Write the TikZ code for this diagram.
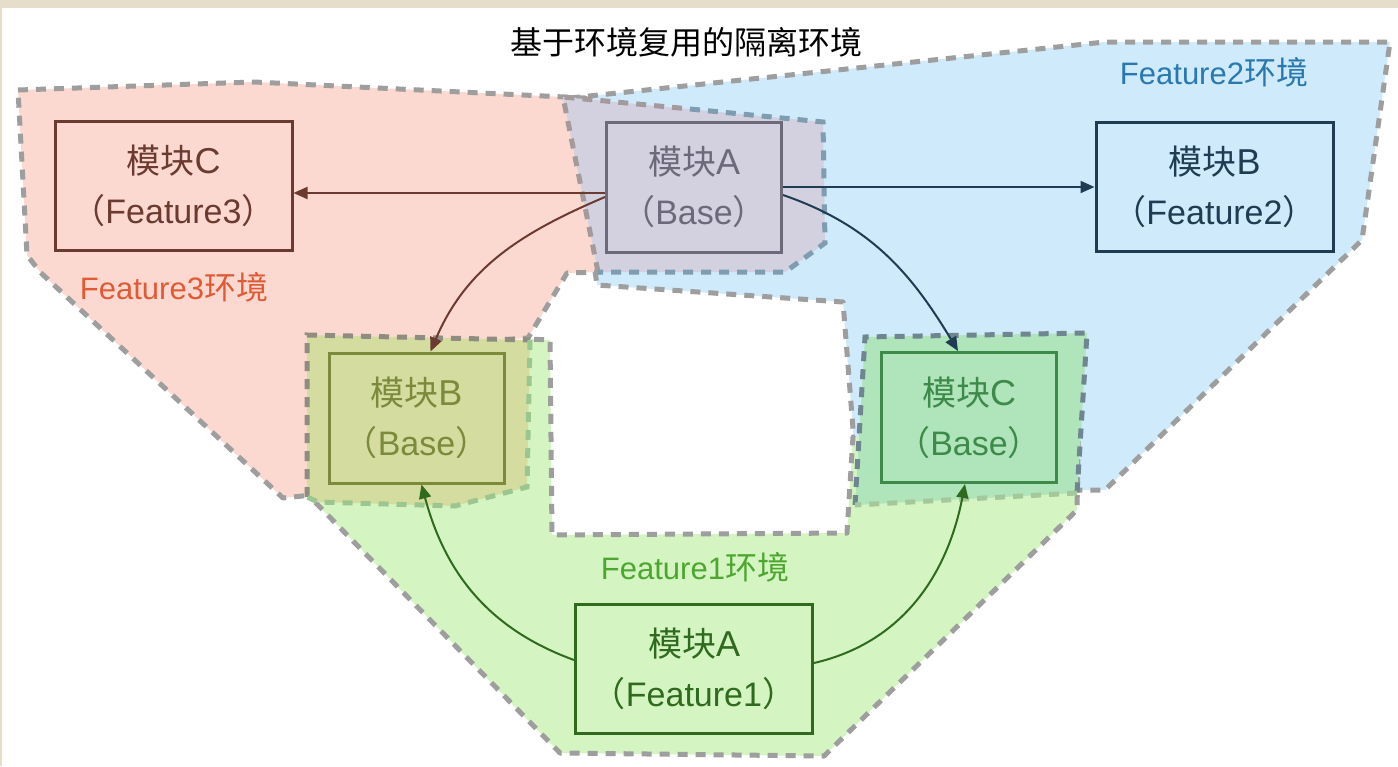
\documentclass[tikz,border=0pt]{standalone}
\usepackage{fontspec}
\setmainfont{Liberation Sans}
\newfontfamily\cjk{Noto Sans CJK SC}
\usetikzlibrary{arrows.meta,calc}
\newcommand{\zh}[1]{{\cjk\fontsize{34}{50}\selectfont #1}}
\newcommand{\zl}[1]{{\cjk\fontsize{32}{36}\selectfont #1}}
\newcommand{\bigltr}[1]{{\fontsize{36}{50}\selectfont #1}}
\definecolor{beige}{RGB}{230,221,202}
\definecolor{dashgray}{RGB}{158,158,158}
\definecolor{pinkfill}{RGB}{252,217,208}
\definecolor{bluefill}{RGB}{206,234,251}
\definecolor{greenfill}{RGB}{212,245,193}
\definecolor{purplefill}{RGB}{211,209,224}
\definecolor{olivefill}{RGB}{213,220,160}
\definecolor{cbasefill}{RGB}{176,229,187}
\definecolor{brownc}{RGB}{107,59,48}
\definecolor{grayc}{RGB}{108,106,122}
\definecolor{navyc}{RGB}{31,60,82}
\definecolor{olivec}{RGB}{124,138,60}
\definecolor{greenc}{RGB}{62,138,74}
\definecolor{dgreenc}{RGB}{47,106,30}
\definecolor{lab3}{RGB}{224,90,53}
\definecolor{lab2}{RGB}{42,120,176}
\definecolor{lab1}{RGB}{76,166,47}
\definecolor{edgepurpleL}{RGB}{164,154,156}
\definecolor{edgepurpleR}{RGB}{127,157,176}
\definecolor{edgeoliveL}{RGB}{143,140,128}
\definecolor{edgeoliveR}{RGB}{156,198,144}
\definecolor{edgecbaseT}{RGB}{111,133,143}
\definecolor{edgecbaseB}{RGB}{164,200,156}
\tikzset{
  envline/.style={draw=dashgray, line width=5pt, dash pattern=on 10pt off 8pt, line join=round},
  baseline/.style={line width=5pt, dash pattern=on 10pt off 8pt, line cap=butt},
  modtext/.style={font=\fontsize{34}{50}\selectfont, align=center},
  widebox/.style={modtext, draw, line width=3pt, minimum width=237pt, minimum height=129pt, inner sep=0pt},
  narrowbox/.style={modtext, draw, line width=3pt, minimum width=175pt, minimum height=130pt, inner sep=0pt},
  arr/.style={line width=2pt, -{Triangle[length=14pt,width=12pt]}},
  envlabel/.style={font=\fontsize{31}{36}\selectfont}
}
\begin{document}
\begin{tikzpicture}[x=1pt,y=1pt]
\useasboundingbox (0,0) rectangle (1398,-766);
\fill[beige] (0,0) rectangle (1398,-766);
\fill[white] (2,-8) rectangle (1398,-766);

% Feature2 environment (blue)
\path[fill=bluefill, envline] (570,-98) -- (1105,-42) -- (1390,-42) -- (1362,-240) -- (1105,-490) -- (858,-492) -- (843,-302) -- (597,-285) -- cycle;
% Feature3 environment (pink)
\path[fill=pinkfill, envline] (18,-90) -- (254,-82) -- (585,-98) -- (600,-272) -- (567,-273) -- (528,-338) -- (420,-345) -- (312,-495) -- (283,-498) -- (40,-272) -- (27,-255) -- cycle;
% Feature1 environment (green)
\path[fill=greenfill, envline] (320,-345) -- (520,-345) -- (528,-339) -- (550,-340) -- (552,-535) -- (847,-533) -- (853,-437) -- (860,-437) -- (870,-345) -- (1080,-345) -- (1077,-510) -- (824,-756) -- (560,-753) -- (313,-500) -- (318,-480) -- cycle;

% base regions
\fill[purplefill] (563,-97) -- (823,-122) -- (825,-243) -- (785,-272) -- (598,-272) -- cycle;
\draw[baseline, draw=edgepurpleL] (598,-272) -- (563,-97) -- (690,-109);
\draw[baseline, draw=edgepurpleR] (690,-109) -- (823,-122) -- (825,-243) -- (785,-272) -- (598,-272);

\fill[olivefill] (307,-335) -- (530,-340) -- (527,-487) -- (455,-506) -- (318,-502) -- (307,-497) -- cycle;
\draw[baseline, draw=edgeoliveL] (307,-497) -- (307,-335) -- (530,-340);
\draw[baseline, draw=edgeoliveR] (530,-340) -- (527,-487) -- (455,-506) -- (318,-502) -- (307,-497);

\fill[cbasefill] (865,-337) -- (1087,-333) -- (1077,-493) -- (855,-505) -- cycle;
\draw[baseline, draw=edgecbaseT] (855,-505) -- (865,-337) -- (1087,-333) -- (1077,-493);
\draw[baseline, draw=edgecbaseB] (1077,-493) -- (855,-505);

% module boxes
\node[widebox, draw=brownc, text=brownc] (cf3) at (173.5,-186) {\zh{模块}\bigltr{C}\\\zh{（}Feature3\zh{）}};
\node[narrowbox, draw=grayc, text=grayc] (abase) at (694,-187) {\zh{模块}\bigltr{A}\\\zh{（}Base\zh{）}};
\node[widebox, draw=navyc, text=navyc] (bf2) at (1214.5,-187) {\zh{模块}\bigltr{B}\\\zh{（}Feature2\zh{）}};
\node[narrowbox, draw=olivec, text=olivec] (bbase) at (416.5,-418) {\zh{模块}\bigltr{B}\\\zh{（}Base\zh{）}};
\node[narrowbox, draw=greenc, text=greenc] (cbase) at (969,-417.5) {\zh{模块}\bigltr{C}\\\zh{（}Base\zh{）}};
\node[widebox, draw=dgreenc, text=dgreenc] (af1) at (694,-669) {\zh{模块}\bigltr{A}\\\zh{（}Feature1\zh{）}};

% connectors
\draw[arr, brownc] ([yshift=-6pt]abase.west) -- ([yshift=-6pt]abase.west -| cf3.east);
\draw[arr, navyc] (abase.east) -- (bf2.west);
\draw[arr, brownc] ([yshift=-10pt]abase.west) to[out=203,in=67] ([xshift=14pt]bbase.north);
\draw[arr, navyc] ([yshift=-8pt]abase.east) to[out=-19,in=121] ([xshift=-11pt]cbase.north);
\draw[arr, dgreenc] ([yshift=9pt]af1.west) to[out=160,in=-75] ([xshift=5pt]bbase.south);
\draw[arr, dgreenc] ([yshift=6pt]af1.east) to[out=13,in=-101] ([xshift=-4pt]cbase.south);

% labels
\node[font=\fontsize{32}{36}\selectfont\cjk] (title) at (686,-42) {基于环境复用的隔离环境};
\node[envlabel, text=lab3] (l3) at (174,-287) {Feature3\zl{环境}};
\node[envlabel, text=lab2] (l2) at (1214,-72) {Feature2\zl{环境}};
\node[envlabel, text=lab1] (l1) at (695,-567) {Feature1\zl{环境}};
\end{tikzpicture}
\end{document}
